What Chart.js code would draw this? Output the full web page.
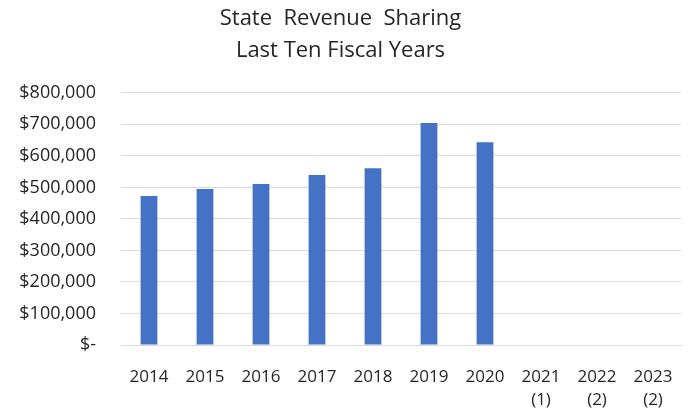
<!DOCTYPE html>
<html>
<head>
<meta charset="utf-8">
<script src="https://cdn.jsdelivr.net/npm/chart.js@4/dist/chart.umd.min.js"></script>
<style>
  html, body { margin: 0; padding: 0; background: #ffffff; }
  #wrap { width: 691px; height: 413px; position: relative; }
</style>
</head>
<body>
<div id="wrap"><canvas id="c" width="691" height="413"></canvas></div>
<script>
const titleLines = ['State  Revenue  Sharing', 'Last Ten Fiscal Years'];
const categories = [['2014'], ['2015'], ['2016'], ['2017'], ['2018'], ['2019'], ['2020'], ['2021', '(1)'], ['2022', '(2)'], ['2023', '(2)']];
const revenueValues = [473000, 495000, 511000, 539000, 561000, 704000, 643000, null, null, null];
const yTickMax = 800000;
const yTickStep = 100000;

const FONT = '"Open Sans", "Noto Sans", sans-serif';

new Chart(document.getElementById('c'), {
  type: 'bar',
  data: {
    labels: categories,
    datasets: [{
      label: 'State Revenue Sharing',
      data: revenueValues,
      backgroundColor: '#4472C4',
      borderWidth: 0,
      categoryPercentage: 1.0,
      barPercentage: 0.3
    }]
  },
  options: {
    responsive: false,
    animation: false,
    devicePixelRatio: 1,
    layout: { padding: { left: 0, right: 10, top: 0, bottom: 0 } },
    plugins: {
      legend: { display: false },
      tooltip: { enabled: false },
      title: {
        display: true,
        text: titleLines,
        color: '#262626',
        font: { family: FONT, size: 22, weight: 'normal', lineHeight: 1.45 },
        padding: { top: 3, bottom: 26 }
      }
    },
    scales: {
      x: {
        afterFit: (scale) => { scale.height = 68; },
        grid: { display: false },
        border: { display: true, color: '#d9d9d9', width: 1 },
        ticks: {
          color: '#262626',
          font: { family: FONT, size: 17, lineHeight: 1.35 },
          maxRotation: 0,
          autoSkip: false,
          padding: 13
        }
      },
      y: {
        min: 0,
        max: yTickMax,
        afterFit: (scale) => { scale.width = 121; },
        grid: { color: '#d9d9d9', drawTicks: false, lineWidth: 1 },
        border: { display: false },
        ticks: {
          stepSize: yTickStep,
          color: '#262626',
          font: { family: FONT, size: 18 },
          padding: 25,
          callback: (v) => v === 0 ? '$-' : '$' + v.toLocaleString('en-US')
        }
      }
    }
  }
});
</script>
</body>
</html>
